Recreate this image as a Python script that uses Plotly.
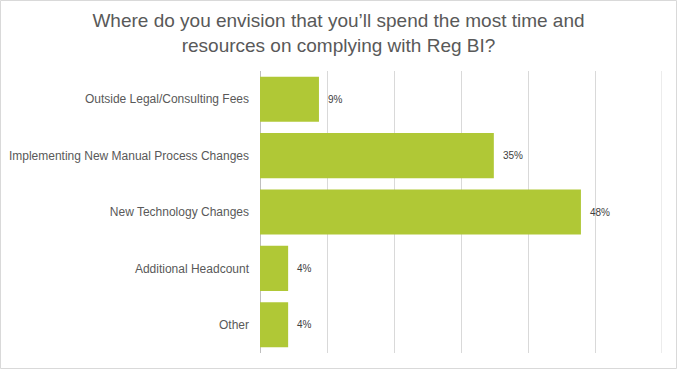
import plotly.graph_objects as go

categories = [
    "Outside Legal/Consulting Fees",
    "Implementing New Manual Process Changes",
    "New Technology Changes",
    "Additional Headcount",
    "Other",
]
values = [0.088, 0.349, 0.479, 0.042, 0.042]
labels = ["9%", "35%", "48%", "4%", "4%"]
title = "Where do you envision that you’ll spend the most time and<br>resources on complying with Reg BI?"
x_max = 0.6

W, H = 677, 369
ML, MR, MT, MB = 260, 15, 71, 16
pw, ph = W - ML - MR, H - MT - MB

fig = go.Figure(go.Bar(
    x=values, y=categories, orientation="h",
    marker=dict(color="#b0c836", line=dict(width=0)),
    hoverinfo="skip",
))

for v, c, t in zip(values, categories, labels):
    fig.add_annotation(x=v, y=c, text=t, showarrow=False, xanchor="left",
                       xshift=7, font=dict(family="Liberation Sans, Arial", size=10, color="#404040"))

# outer chart border
fig.add_shape(type="rect", xref="paper", yref="paper",
              x0=(0.5 - ML) / pw, x1=(W - 0.5 - ML) / pw,
              y0=(H - MB - (H - 0.5)) / ph, y1=(H - MB - 0.5) / ph,
              line=dict(color="#d9d9d9", width=1), fillcolor="rgba(0,0,0,0)", layer="below")
# gridline at the end of the axis range
fig.add_shape(type="line", xref="x", yref="paper", x0=x_max, x1=x_max, y0=0, y1=1,
              line=dict(color="#d9d9d9", width=1), layer="below")

fig.update_layout(
    width=W, height=H,
    margin=dict(l=ML, r=MR, t=MT, b=MB, autoexpand=False),
    paper_bgcolor="white", plot_bgcolor="white",
    bargap=0.2,
    showlegend=False,
    title=dict(text=title, x=0.5, xref="container", xanchor="center", y=0.927, yanchor="top",
               font=dict(family="Liberation Sans, Arial", size=19, color="#595959")),
    xaxis=dict(range=[0, x_max], dtick=0.1, showgrid=True, gridcolor="#d9d9d9", gridwidth=1,
               showticklabels=False, zeroline=True, zerolinecolor="#bfbfbf", zerolinewidth=1,
               showline=False, fixedrange=True),
    yaxis=dict(autorange="reversed", showgrid=False, showline=False, ticks="",
               ticklabelstandoff=10, automargin=False, fixedrange=True,
               tickfont=dict(family="Liberation Sans, Arial", size=12, color="#595959")),
)
fig.write_html("out.html", config={"displayModeBar": False},
               post_script="document.body.style.margin='0';document.body.style.padding='0';")
